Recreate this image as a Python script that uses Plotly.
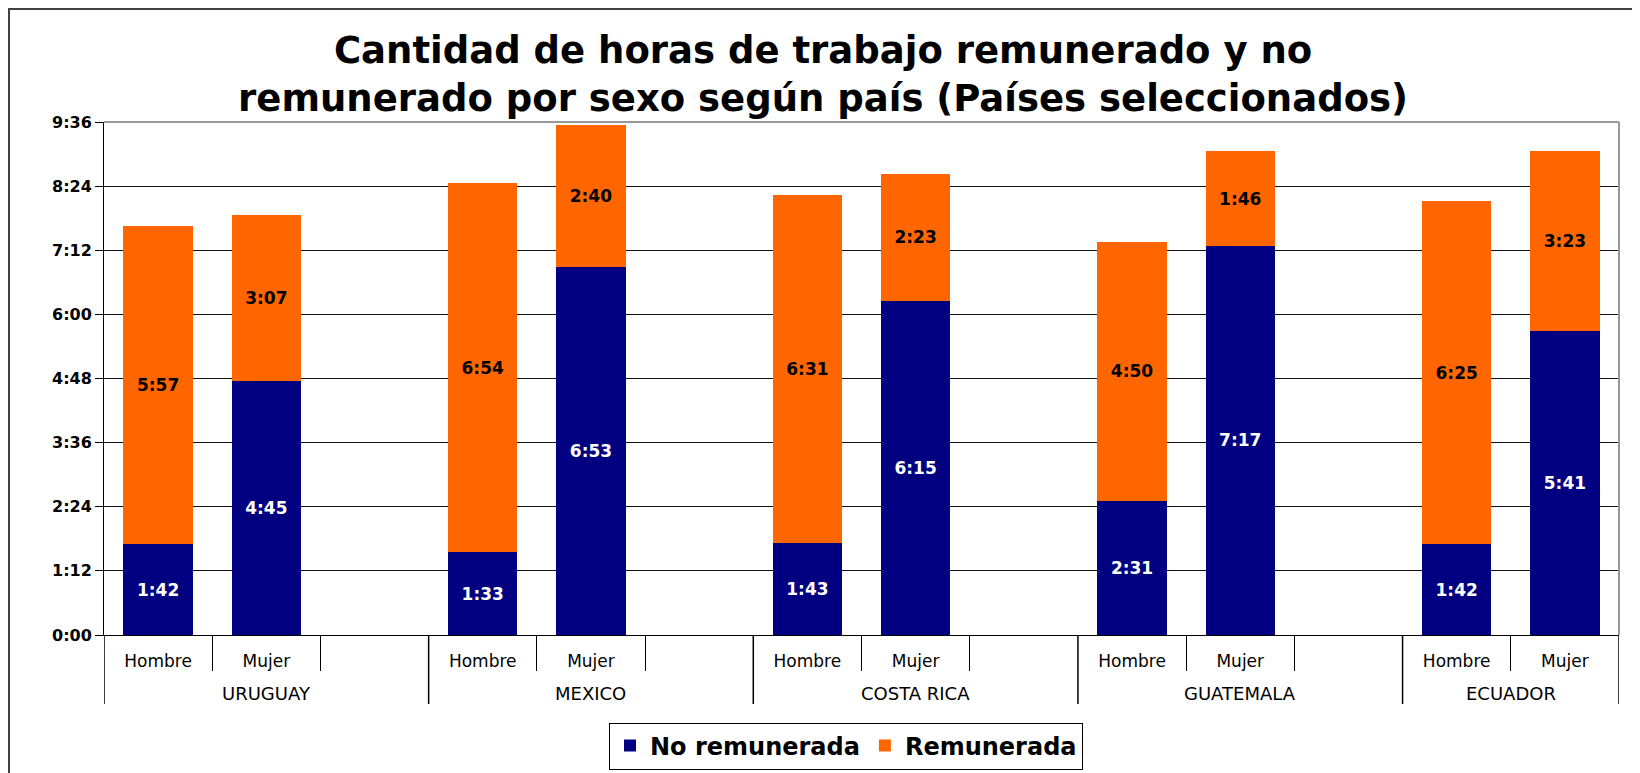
import plotly.graph_objects as go

countries = ["URUGUAY", "MEXICO", "COSTA RICA", "GUATEMALA", "ECUADOR"]
sexes = ["Hombre", "Mujer"]

# minutes per day
no_remunerada = {
    "URUGUAY": [102, 285],
    "MEXICO": [93, 413],
    "COSTA RICA": [103, 375],
    "GUATEMALA": [151, 437],
    "ECUADOR": [102, 341],
}
remunerada = {
    "URUGUAY": [357, 187],
    "MEXICO": [414, 160],
    "COSTA RICA": [391, 143],
    "GUATEMALA": [290, 106],
    "ECUADOR": [385, 203],
}
y_ticks = [0, 72, 144, 216, 288, 360, 432, 504, 576]


def hm(m):
    return f"{m // 60}:{m % 60:02d}"


# category slots: each country has Hombre, Mujer and an empty slot (except the last)
xpos, xlab, nr, rr = [], [], [], []
group_bounds = []
minor_bounds = []
slot = 0
for gi, c in enumerate(countries):
    start = slot
    nslots = 3 if gi < len(countries) - 1 else 2
    for i in range(2):
        xpos.append(slot)
        xlab.append(sexes[i])
        nr.append(no_remunerada[c][i])
        rr.append(remunerada[c][i])
        slot += 1
    slot = start + nslots
    group_bounds.append((start - 0.5, slot - 0.5))
    minor_bounds += [start + k + 0.5 for k in range(nslots - 1)]

FONT = "DejaVu Sans, Liberation Sans, sans-serif"

fig = go.Figure()
fig.add_trace(go.Bar(
    x=xpos, y=nr, name="No remunerada",
    marker=dict(color="#000080", line=dict(width=0)),
    text=[hm(v) for v in nr],
    textposition="inside", insidetextanchor="middle",
    textfont=dict(color="white", size=17, family=FONT, weight="bold"),
    textangle=0,
))
fig.add_trace(go.Bar(
    x=xpos, y=rr, name="Remunerada",
    marker=dict(color="#FF6600", line=dict(width=0)),
    text=[hm(v) for v in rr],
    textposition="inside", insidetextanchor="middle",
    textfont=dict(color="black", size=17, family=FONT, weight="bold"),
    textangle=0,
))

W, H = 1640, 773
OFF = 8  # page body margin
L, R, T, B = 96, 29, 114, 146
pw, ph = W - L - R, H - T - B


def px_x(x):
    return (x - OFF - L) / pw


def px_y(y):
    return (H - B - (y - OFF)) / ph


fig.update_layout(
    width=W, height=H,
    margin=dict(l=L, r=R, t=T, b=B),
    barmode="stack", bargap=0.36,
    plot_bgcolor="white", paper_bgcolor="white",
    font=dict(family=FONT, color="black", size=17),
    title=dict(
        text="<b>Cantidad de horas de trabajo remunerado y no<br>remunerado por sexo según país (Países seleccionados)</b>",
        x=0.497, xanchor="center", y=1 - 55 / H, yanchor="middle", yref="container",
        font=dict(size=37, family=FONT, color="black"),
    ),
    showlegend=True,
    legend=dict(
        orientation="h", x=px_x(846), xanchor="center", y=px_y(746), yanchor="middle",
        bordercolor="black", borderwidth=1, bgcolor="white",
        font=dict(size=24, family=FONT, weight="bold"),
        traceorder="normal", itemwidth=30,
    ),
)
fig.update_yaxes(
    range=[0, 576], tickvals=y_ticks, ticktext=[hm(v) for v in y_ticks],
    showgrid=True, gridcolor="#111111", gridwidth=1,
    showline=True, linecolor="black", linewidth=1,
    ticks="outside", ticklen=8, tickcolor="black",
    tickfont=dict(size=16, family=FONT, weight="bold"),
    zeroline=False,
)
fig.update_xaxes(
    range=[-0.5, slot - 0.5],
    tickmode="array", tickvals=xpos, ticktext=xlab,
    showline=True, linecolor="black", linewidth=1,
    ticks="outside", ticklen=11, tickcolor="rgba(0,0,0,0)",
    tickfont=dict(size=17, family=FONT),
    showgrid=False, zeroline=False,
    minor=dict(tickmode="array", tickvals=minor_bounds, ticks="outside",
               ticklen=35, tickcolor="black", showgrid=False),
)

# country-level dividers and labels
div_bottom = px_y(704)
bounds = sorted(set(b for g in group_bounds for b in g))
for b in bounds:
    fig.add_shape(type="line", xref="x", yref="paper", x0=b, x1=b, y0=0, y1=div_bottom,
                  line=dict(color="black", width=1.5))
for c, (a, b) in zip(countries, group_bounds):
    fig.add_annotation(text=c, x=(a + b) / 2, xref="x", y=px_y(693), yref="paper",
                       showarrow=False, yanchor="middle",
                       font=dict(size=18, family=FONT, color="black"))

# chart frame and gray plot-area border (top/right)
fig.add_shape(type="rect", xref="paper", yref="paper",
              x0=px_x(9), x1=px_x(1637), y0=px_y(790), y1=px_y(9),
              line=dict(color="#404040", width=2), fillcolor="rgba(0,0,0,0)", layer="below")
fig.add_shape(type="line", xref="paper", yref="paper", x0=0, x1=1, y0=1, y1=1,
              line=dict(color="#999999", width=2))
fig.add_shape(type="line", xref="paper", yref="paper", x0=1, x1=1, y0=0, y1=1,
              line=dict(color="#999999", width=2))

fig.write_html("out.html")
